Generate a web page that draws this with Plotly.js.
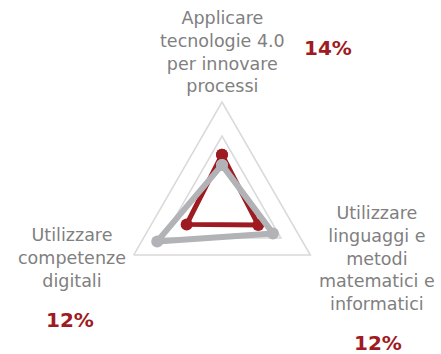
<!DOCTYPE html>
<html>
<head>
<meta charset="utf-8">
<script src="https://cdn.plot.ly/plotly-3.0.1.min.js"></script>
<style>
  html, body { margin: 0; padding: 0; background: #fff; }
  #chart { width: 441px; height: 354px; }
</style>
</head>
<body>
<div id="chart"></div>
<script>
// assi del radar (in ordine: alto, destra in basso, sinistra in basso)
var assi = ['Applicare tecnologie 4.0', 'Linguaggi e metodi', 'Competenze digitali'];
var serieRossa = [0.145, 0.123, 0.12];
var serieGrigia = [0.115, 0.173, 0.22];

// etichette e percentuali
var etichette = [
    'Applicare<br>tecnologie 4.0<br>per innovare<br>processi',
    'Utilizzare<br>linguaggi e<br>metodi<br>matematici e<br>informatici',
    'Utilizzare<br>competenze<br>digitali'
];
var percentuali = ['14%', '12%', '12%'];

var W = 441, H = 354;
function px(x) { return x / W; }
function py(y) { return 1 - y / H; }

function chiudi(arr) { return arr.concat([arr[0]]); }

var traces = [
    {
        type: 'scatterpolar',
        r: chiudi(serieRossa),
        theta: chiudi(assi),
        mode: 'lines+markers',
        line: { color: '#9e1b22', width: 5 },
        marker: { color: '#9e1b22', size: 12 },
        hoverinfo: 'skip'
    },
    {
        type: 'scatterpolar',
        r: chiudi(serieGrigia),
        theta: chiudi(assi),
        mode: 'lines+markers',
        line: { color: '#b2b3b7', width: 6 },
        marker: { color: '#b2b3b7', size: 12 },
        hoverinfo: 'skip'
    }
];

var font = 'DejaVu Sans, sans-serif';
var annotations = [
    { x: px(222), y: py(52), text: etichette[0] },
    { x: px(377), y: py(258), text: etichette[1] },
    { x: px(72), y: py(258), text: etichette[2] }
].map(function (a) {
    return Object.assign(a, {
        xref: 'paper', yref: 'paper', xanchor: 'center', yanchor: 'middle',
        showarrow: false, align: 'center',
        font: { family: font, size: 17.5, color: '#808080' }
    });
});

[[328, 48], [378, 343], [70, 320]].forEach(function (p, i) {
    annotations.push({
        x: px(p[0]), y: py(p[1]), text: '<b>' + percentuali[i] + '</b>',
        xref: 'paper', yref: 'paper', xanchor: 'center', yanchor: 'middle',
        showarrow: false,
        font: { family: font, size: 20, color: '#9e1b22' }
    });
});

var layout = {
    width: W,
    height: H,
    margin: { l: 0, r: 0, t: 0, b: 0 },
    paper_bgcolor: '#fff',
    showlegend: false,
    polar: {
        domain: { x: [px(120), px(324)], y: [py(306), py(102)] },
        gridshape: 'linear',
        bgcolor: 'rgba(0,0,0,0)',
        radialaxis: {
            range: [0, 0.3],
            tickvals: [0.2],
            showticklabels: false,
            ticks: '',
            showline: false,
            gridcolor: '#d9d9d9',
            gridwidth: 1.5
        },
        angularaxis: {
            rotation: 90,
            direction: 'clockwise',
            showticklabels: false,
            ticks: '',
            showgrid: false,
            linecolor: '#d9d9d9',
            linewidth: 1.5
        }
    },
    annotations: annotations
};

Plotly.newPlot('chart', traces, layout, { displayModeBar: false, staticPlot: true });
</script>
</body>
</html>
